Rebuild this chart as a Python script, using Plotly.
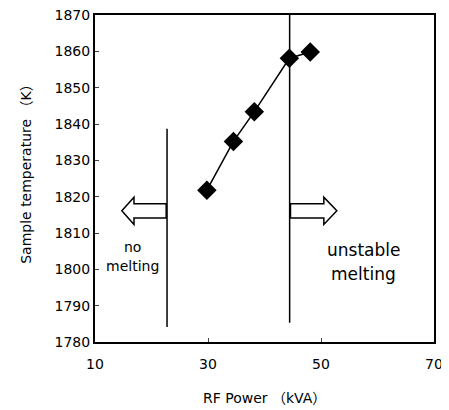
import plotly.graph_objects as go

# Data
rf_power = [29.8, 34.5, 38.2, 44.4, 48.1]
temperature = [1821.8, 1835.2, 1843.4, 1858.1, 1859.8]

x_ticks = [10, 30, 50, 70]
y_ticks = [1780, 1790, 1800, 1810, 1820, 1830, 1840, 1850, 1860, 1870]

# Boundary lines (x, y0, y1)
left_boundary = (22.75, 1784.1, 1838.7)
right_boundary = (44.45, 1785.3, 1870)

FONT = "DejaVu Sans, Noto Sans CJK JP, sans-serif"

fig = go.Figure()
fig.add_trace(go.Scatter(
    x=rf_power, y=temperature, mode="lines+markers",
    line=dict(color="black", width=1.5),
    marker=dict(symbol="diamond", size=15, color="black",
                line=dict(color="black", width=0)),
    showlegend=False, hoverinfo="skip"))

for bx, by0, by1 in (left_boundary, right_boundary):
    fig.add_shape(type="line", xref="x", yref="y", x0=bx, x1=bx, y0=by0, y1=by1,
                  line=dict(color="black", width=1.5))

# Hollow block arrows
yc = 1816.1
sh = 1.95   # shaft half-height
hh = 3.75   # head half-height

def arrow_path(base, head_base, tip):
    pts = [(base, yc + sh), (head_base, yc + sh), (head_base, yc + hh), (tip, yc),
           (head_base, yc - hh), (head_base, yc - sh), (base, yc - sh)]
    return "M " + " L ".join(f"{px},{py}" for px, py in pts) + " Z"

fig.add_shape(type="path", xref="x", yref="y", path=arrow_path(22.6, 16.9, 14.75),
              line=dict(color="black", width=1.5), fillcolor="white")
fig.add_shape(type="path", xref="x", yref="y", path=arrow_path(44.6, 50.5, 52.8),
              line=dict(color="black", width=1.5), fillcolor="white")

def label(x, y, text, size):
    fig.add_annotation(x=x, y=y, xref="x", yref="y", text=text, showarrow=False,
                       font=dict(family=FONT, size=size, color="black"))

label(16.6, 1806.2, "no", 14)
label(16.6, 1800.8, "melting", 14)
label(57.6, 1805.4, "unstable", 17)
label(57.6, 1798.6, "melting", 17)

# Axis titles
fig.add_annotation(x=0.5, y=-0.171, xref="paper", yref="paper", text="RF Power （kVA）",
                   showarrow=False, font=dict(family=FONT, size=14, color="black"),
                   xanchor="center", yanchor="middle")
fig.add_annotation(x=-0.206, y=0.524, xref="paper", yref="paper",
                   text="Sample temperature （K）", textangle=-90,
                   showarrow=False, font=dict(family=FONT, size=14, color="black"),
                   xanchor="center", yanchor="middle")

# The page body adds an 8px offset, so the figure is sized 8px smaller.
fig.update_layout(
    width=441, height=402,
    margin=dict(l=87, r=15, t=7, b=68),
    paper_bgcolor="white", plot_bgcolor="white",
    font=dict(family=FONT, size=14, color="black"),
    xaxis=dict(range=[10, 70], tickvals=x_ticks, ticks="inside", ticklen=4,
               showgrid=False, zeroline=False, showline=True, linecolor="black",
               linewidth=2, mirror=True, automargin=False,
               ticklabeloverflow="allow", ticklabelstandoff=8,
               tickfont=dict(family=FONT, size=14)),
    yaxis=dict(range=[1780, 1870], tickvals=y_ticks, ticks="inside", ticklen=4,
               showgrid=False, zeroline=False, showline=True, linecolor="black",
               linewidth=2, mirror=True, automargin=False,
               ticklabeloverflow="allow",
               tickfont=dict(family=FONT, size=14)),
)

fig.write_html("out.html")
